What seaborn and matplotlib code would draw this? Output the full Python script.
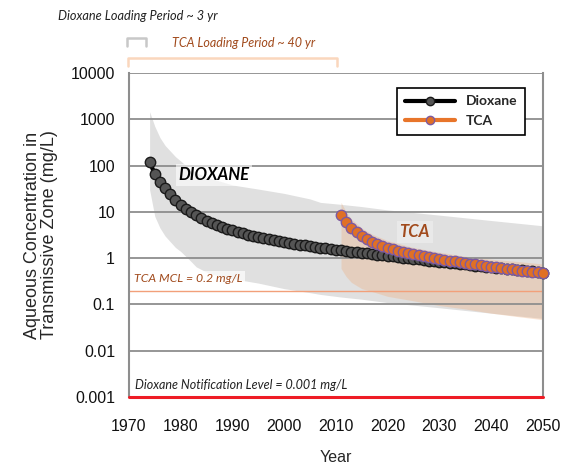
import numpy as np
import pandas as pd
import matplotlib
matplotlib.use("Agg")
import matplotlib.pyplot as plt
import matplotlib.transforms as mtransforms
from matplotlib.lines import Line2D
import seaborn as sns

# -----------------------------
# Data
# -----------------------------

dioxane_years = list(range(1974, 2051))
dioxane_conc = [
    120, 66, 45, 33, 24, 18, 14, 11.5, 9.8, 8.4,
    7.3, 6.5, 5.8, 5.2, 4.7, 4.3, 4.0, 3.7, 3.45, 3.2,
    3.0, 2.85, 2.7, 2.55, 2.42, 2.3, 2.2, 2.1, 2.02, 1.95,
    1.88, 1.81, 1.75, 1.69, 1.63, 1.58, 1.53, 1.48, 1.43, 1.39,
    1.35, 1.31, 1.27, 1.23, 1.19, 1.15, 1.12, 1.09, 1.06, 1.03,
    1.0, 0.97, 0.94, 0.91, 0.88, 0.86, 0.83, 0.81, 0.79, 0.77,
    0.75, 0.73, 0.71, 0.69, 0.67, 0.655, 0.64, 0.625, 0.61, 0.595,
    0.58, 0.565, 0.55, 0.535, 0.52, 0.505, 0.49,
]

tca_years = list(range(2011, 2051))
tca_conc = [
    8.6, 5.9, 4.5, 3.6, 3.0, 2.55, 2.25, 2.0, 1.82, 1.68,
    1.56, 1.45, 1.36, 1.28, 1.21, 1.15, 1.09, 1.04, 1.0, 0.96,
    0.92, 0.88, 0.85, 0.82, 0.79, 0.76, 0.73, 0.70, 0.675, 0.65,
    0.63, 0.61, 0.59, 0.57, 0.555, 0.54, 0.525, 0.51, 0.50, 0.49,
]

# uncertainty envelopes
dioxane_band_years = [1974, 1975, 1976, 1977, 1979, 1980, 1982, 1983, 1985, 1986,
                      1990, 1995, 2000, 2005, 2007, 2011, 2015, 2020, 2030, 2040, 2050]
dioxane_band_upper = [1450, 700, 400, 270, 155, 125, 80, 70, 56, 52,
                      38, 31, 25, 19, 16, 14.5, 13, 11, 8.5, 6.5, 5]
dioxane_band_lower = [30, 8, 4.5, 3.0, 1.7, 1.4, 0.85, 0.65, 0.5, 0.45,
                      0.36, 0.29, 0.22, 0.18, 0.165, 0.145, 0.13, 0.11, 0.085, 0.065, 0.05]

tca_band_years = [2011, 2012, 2013, 2015, 2017, 2020, 2025, 2030, 2035, 2040, 2045, 2050]
tca_band_upper = [16, 10, 7, 4.5, 3.3, 2.4, 1.7, 1.35, 1.1, 0.95, 0.85, 0.75]
tca_band_lower = [0.6, 0.4, 0.3, 0.22, 0.19, 0.15, 0.12, 0.095, 0.08, 0.065, 0.055, 0.047]

tca_mcl = 0.2
dioxane_nl = 0.001

dioxane_loading = [1969.6, 1973.3]
tca_loading = [1969.8, 2010.2]

y_ticks = [0.001, 0.01, 0.1, 1, 10, 100, 1000, 10000]
y_tick_labels = ["0.001", "0.01", "0.1", "1", "10", "100", "1000", "10000"]
x_ticks = list(range(1970, 2051, 10))


# -----------------------------
# Plot
# -----------------------------

def make_plot():

    sns.set_theme(style="white")
    plt.rcParams["font.family"] = ["Liberation Sans", "DejaVu Sans"]

    note_font = ["Lato", "DejaVu Sans"]

    fig = plt.figure(figsize=(5.63, 4.70), dpi=100)
    ax = fig.add_axes([0.229, 0.155, 0.735, 0.69])

    ax.set_yscale("log")
    ax.set_xlim(1970, 2050)
    ax.set_ylim(0.001, 10000)

    # envelopes
    ax.fill_between(dioxane_band_years, dioxane_band_lower, dioxane_band_upper,
                    color="#e0e0e0", lw=0, zorder=0.2)
    ax.fill_between(tca_band_years, tca_band_lower, tca_band_upper,
                    color="#eeaf81", alpha=0.35, lw=0, zorder=0.3)

    # grid
    for v in y_ticks:
        ax.axhline(v, color="#8e8e8e", lw=1.3, zorder=0.6)

    # reference levels
    ax.axhline(tca_mcl, color="#f2a07a", lw=1.0, zorder=0.7)
    ax.axhline(dioxane_nl, color="#ee1c25", lw=2.2, zorder=3, clip_on=False)

    df_d = pd.DataFrame({"year": dioxane_years, "conc": dioxane_conc})
    df_t = pd.DataFrame({"year": tca_years, "conc": tca_conc})

    sns.lineplot(data=df_d, x="year", y="conc", ax=ax, color="black", lw=3,
                 marker="o", markersize=7.5, markerfacecolor="#555555",
                 markeredgecolor="#1a1a1a", markeredgewidth=1.0, zorder=4,
                 clip_on=False)
    sns.lineplot(data=df_t, x="year", y="conc", ax=ax, color="#e8752a", lw=3,
                 marker="o", markersize=7.5, markerfacecolor="#e07025",
                 markeredgecolor="#7d5aa0", markeredgewidth=1.0, zorder=5,
                 clip_on=False)

    # in-plot labels
    ax.text(1979.6, 63, "DIOXANE", fontsize=12, fontweight="bold", style="italic",
            family=note_font, color="black", va="center", zorder=6,
            bbox=dict(facecolor="white", alpha=0.6, edgecolor="none", pad=2))
    ax.text(2022.3, 3.7, "TCA", fontsize=12, fontweight="bold", style="italic",
            family=note_font, color="#a14a1c", va="center", zorder=6,
            bbox=dict(facecolor="white", alpha=0.3, edgecolor="none", pad=2))
    ax.text(1971.0, 0.37, "TCA MCL = 0.2 mg/L", fontsize=8.8, style="italic",
            family=note_font, color="#a14a1c", va="center", zorder=6,
            bbox=dict(facecolor="white", alpha=0.7, edgecolor="none", pad=1.5))
    ax.text(1971.1, 0.0018, "Dioxane Notification Level = 0.001 mg/L", fontsize=9,
            style="italic", family=note_font, color="#222222", va="center", zorder=6)

    # loading-period brackets above the axes
    trans = mtransforms.blended_transform_factory(ax.transData, ax.transAxes)
    x0, x1 = dioxane_loading
    ax.plot([x0, x0, x1, x1], [1.084, 1.108, 1.108, 1.084], transform=trans,
            color="#c8c8c8", lw=1.8, clip_on=False)
    x0, x1 = tca_loading
    ax.plot([x0, x0, x1, x1], [1.022, 1.046, 1.046, 1.022], transform=trans,
            color="#fad7bd", lw=1.8, clip_on=False)
    fig.text(0.103, 0.966, "Dioxane Loading Period ~ 3 yr", fontsize=9.2,
             style="italic", family=note_font, color="#222222", va="center")
    fig.text(0.305, 0.909, "TCA Loading Period ~ 40 yr", fontsize=9,
             style="italic", family=note_font, color="#a14a1c", va="center")

    # axes styling
    ax.set_xticks(x_ticks)
    ax.set_yticks(y_ticks)
    ax.set_yticklabels(y_tick_labels)
    ax.minorticks_off()
    ax.tick_params(axis="both", labelsize=11.5, colors="#111111", length=4,
                   width=1.2, direction="out", pad=6)
    ax.tick_params(axis="x", color="#8e8e8e", pad=12)
    ax.tick_params(axis="y", color="#8e8e8e")

    for side in ["left", "right"]:
        ax.spines[side].set_color("#8e8e8e")
        ax.spines[side].set_linewidth(1.5)
    ax.spines["top"].set_visible(False)
    ax.spines["bottom"].set_visible(False)

    ax.set_xlabel("Year", fontsize=11.5, labelpad=11)
    ax.set_ylabel("Aqueous Concentration in\nTransmissive Zone (mg/L)",
                  fontsize=13, labelpad=9, linespacing=1.0)

    handles = [
        Line2D([], [], color="black", lw=3, marker="o", markersize=6,
               markerfacecolor="#555555", markeredgecolor="#1a1a1a"),
        Line2D([], [], color="#e8752a", lw=3, marker="o", markersize=6,
               markerfacecolor="#e07025", markeredgecolor="#7d5aa0"),
    ]
    leg = ax.legend(handles, ["Dioxane", "TCA"], loc="upper right",
                    bbox_to_anchor=(0.957, 0.954), frameon=True, fancybox=False,
                    edgecolor="black", framealpha=1, handlelength=3.6,
                    prop={"weight": "bold", "size": 10, "family": note_font},
                    borderpad=0.55, labelspacing=0.55, borderaxespad=0)
    leg.get_frame().set_linewidth(1.2)
    leg.set_zorder(10)

    fig.savefig("out.png", dpi=100)


def main():

    make_plot()


if __name__ == "__main__":
    main()
